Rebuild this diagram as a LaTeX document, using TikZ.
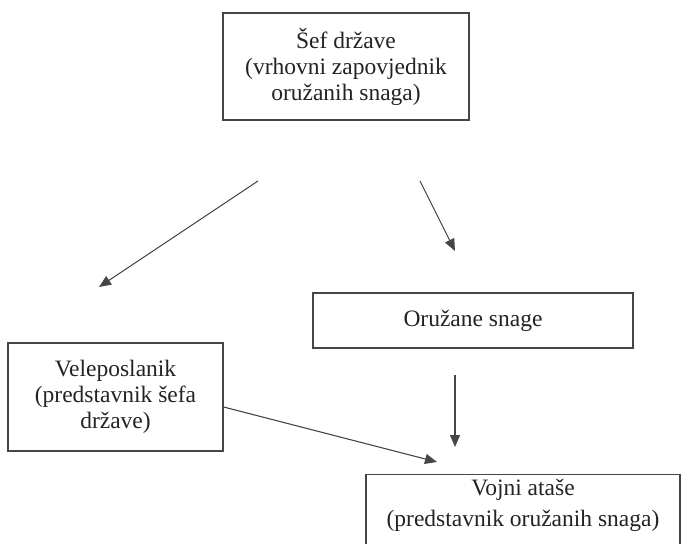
\documentclass[tikz,border=0pt]{standalone}
\usepackage{fontspec}
\setmainfont{Liberation Serif}
\usetikzlibrary{arrows.meta, positioning, calc}
\definecolor{linegray}{RGB}{70,70,70}
\definecolor{textgray}{RGB}{35,35,35}

\begin{document}
\begin{tikzpicture}[
    x=1pt, y=-1pt,
    box/.style={rectangle, draw=linegray, line width=1.3pt, align=center, inner sep=0pt,
                font=\fontsize{23.5}{26}\selectfont, text=textgray},
    lbl/.style={align=center, inner sep=0pt, font=\fontsize{23.5}{31}\selectfont, text=textgray},
    arr/.style={-{Triangle[length=12pt, width=10pt]}, line width=1.1pt, linegray},
]
    \useasboundingbox (0,0) rectangle (682,543);
    \clip (0,0) rectangle (682,543);

    \node[box, minimum width=246, minimum height=107] (sef) at (346,66.5)
        {Šef države\\(vrhovni zapovjednik\\oružanih snaga)};
    \node[box, minimum width=320, minimum height=55] (oru) at (473,320.5) {Oružane snage};
    \node[box, minimum width=215, minimum height=108] (vel) at (115.5,397)
        {Veleposlanik\\(predstavnik šefa\\države)};
    \node[box, minimum width=314, minimum height=110, anchor=north] (voj) at (523,474) {};
    \node[lbl, below=5pt of voj.north] (vojtxt) {Vojni ataše\\(predstavnik oružanih snaga)};

    % free ends of the arrows
    \coordinate (s1) at (258,181);
    \coordinate (e1) at (99,287);
    \coordinate (s2) at (420,181);
    \coordinate (e2) at (455,251);
    \coordinate (s3) at (455,375);
    \coordinate (e3) at (455,447);
    \coordinate (s4) at ($(vel.east)+(0,10)$);
    \coordinate (e4) at (437,462);

    \draw[arr] (s1) -- (e1);
    \draw[arr] (s2) -- (e2);
    \draw[arr] (s3) -- (e3);
    \draw[arr] (s4) -- (e4);
\end{tikzpicture}
\end{document}
